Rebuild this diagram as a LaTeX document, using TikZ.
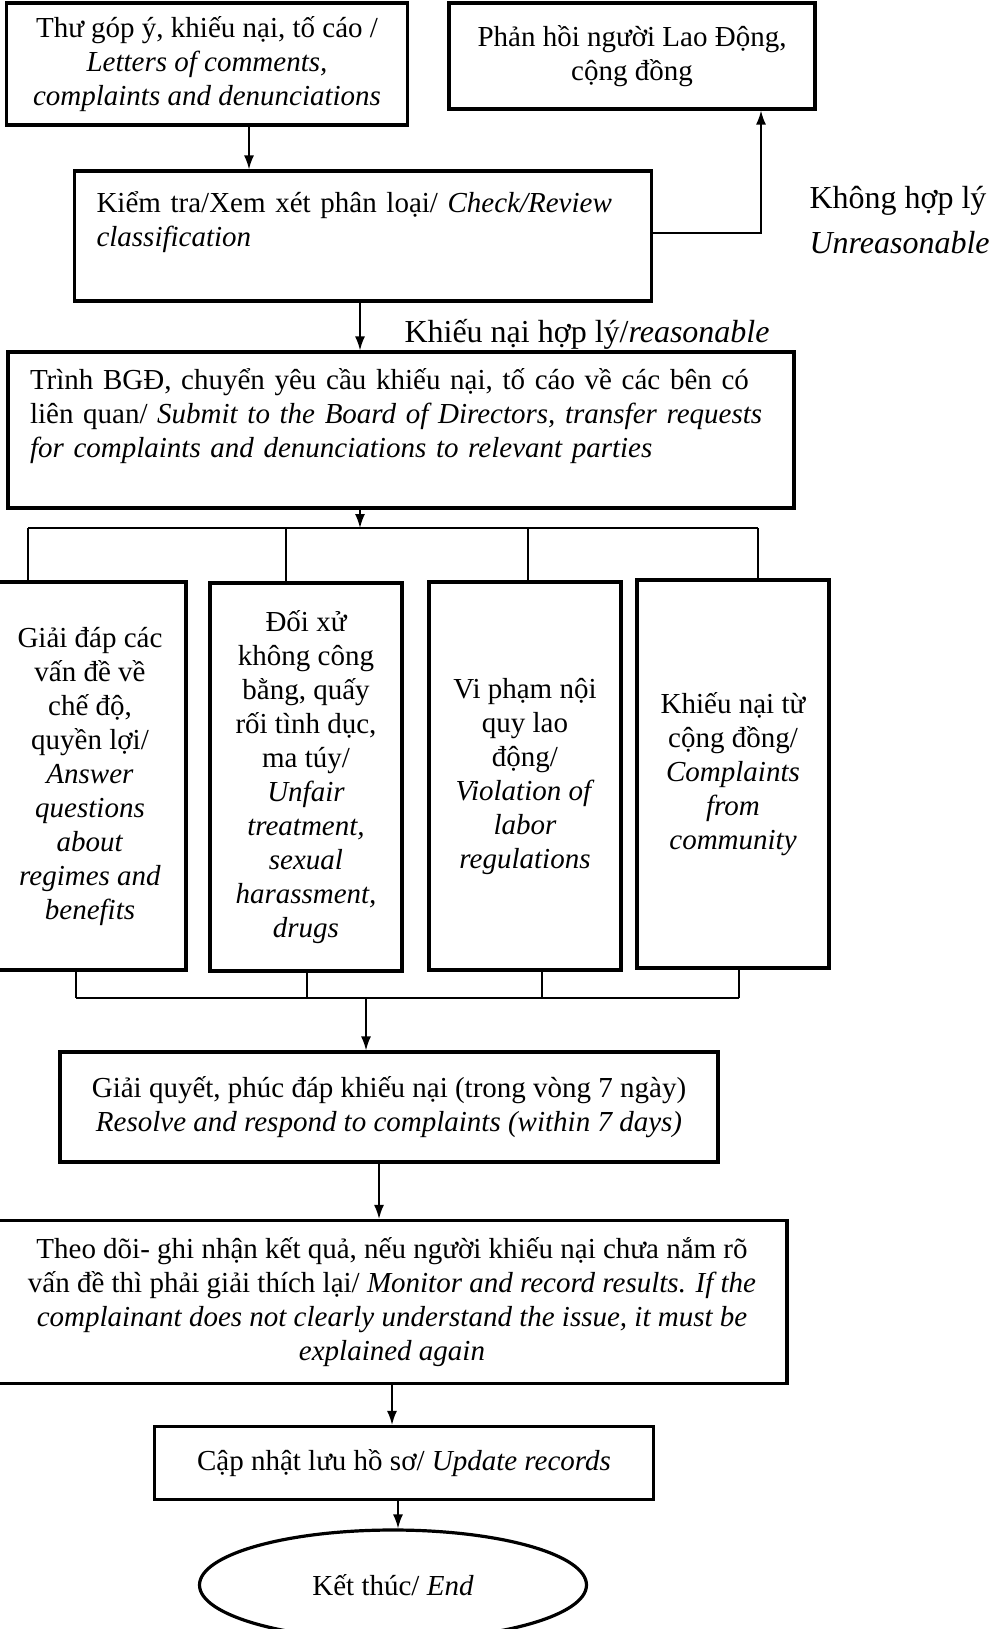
\documentclass[tikz,border=0pt]{standalone}
\usepackage{fontspec}
\setmainfont{Liberation Serif}[ItalicFont={Liberation Serif Italic}]
\usetikzlibrary{arrows.meta,shapes.geometric}

\begin{document}
\begin{tikzpicture}[x=1pt,y=-1pt,
    box/.style={draw,line width=3.2pt,align=center,inner sep=0pt,font=\fontsize{29}{34}\selectfont},
    leftbox/.style={box,align=left,inner xsep=22pt},
    branch/.style={box,minimum width=192,minimum height=388},
    link/.style={line width=1.6pt},
    note/.style={font=\fontsize{32}{45}\selectfont,align=left,anchor=west},
    >={Latex[length=14pt,width=10pt]}]
\useasboundingbox (0,0) rectangle (995,1629);

\node[box,minimum width=401,minimum height=122] (letters) at (207,64)
    {Thư góp ý, khiếu nại, tố cáo /\\ \textit{Letters of comments,}\\ \textit{complaints and denunciations}};
\node[box,minimum width=366,minimum height=106] (feedback) at (632,56)
    {Phản hồi người Lao Động,\\ cộng đồng};
\node[leftbox,text width=533,minimum height=130] (check) at (363,236)
    {Kiểm tra/Xem xét phân loại/ \textit{Check/Review}\\ \textit{classification}\\ \mbox{}};
\node[leftbox,text width=742,minimum height=156] (submit) at (401,430)
    {Trình BGĐ, chuyển yêu cầu khiếu nại, tố cáo về các bên có\\ liên quan/ \textit{Submit to the Board of Directors, transfer requests}\\ \textit{for complaints and denunciations to relevant parties}\\ \mbox{}};

\node[branch] (answer) at (90,776)
    {Giải đáp các\\ vấn đề về\\ chế độ,\\ quyền lợi/\\ \textit{Answer}\\ \textit{questions}\\ \textit{about}\\ \textit{regimes and}\\ \textit{benefits}};
\node[branch] (unfair) at (306,777)
    {Đối xử\\ không công\\ bằng, quấy\\ rối tình dục,\\ ma túy/\\ \textit{Unfair}\\ \textit{treatment,}\\ \textit{sexual}\\ \textit{harassment,}\\ \textit{drugs}};
\node[branch] (violation) at (525,776)
    {Vi phạm nội\\ quy lao\\ động/\\ \textit{Violation of}\\ \textit{labor}\\ \textit{regulations}};
\node[branch] (community) at (733,774)
    {Khiếu nại từ\\ cộng đồng/\\ \textit{Complaints}\\ \textit{from}\\ \textit{community}};

\node[box,minimum width=658,minimum height=110] (resolve) at (389,1107)
    {Giải quyết, phúc đáp khiếu nại (trong vòng 7 ngày)\\ \textit{Resolve and respond to complaints (within 7 days)}};
\node[box,minimum width=790,minimum height=163] (monitor) at (392,1302)
    {Theo dõi- ghi nhận kết quả, nếu người khiếu nại chưa nắm rõ\\ vấn đề thì phải giải thích lại/ \textit{Monitor and record results. If the}\\ \textit{complainant does not clearly understand the issue, it must be}\\ \textit{explained again}};
\node[box,minimum width=499,minimum height=73] (update) at (404,1463)
    {Cập nhật lưu hồ sơ/ \textit{Update records}};
\node[box,ellipse,minimum width=387,minimum height=110] (finish) at (393,1585)
    {Kết thúc/ \textit{End}};

\node[note] (no) at (806,220) {Không hợp lý\\ \textit{Unreasonable}};
\node[note,font=\fontsize{32}{34}\selectfont] (yes) at (401,334) {Khiếu nại hợp lý/\textit{reasonable}};

\coordinate (turn) at (761,233);
\coordinate (split) at (360,528);
\coordinate (join) at (366,998);

\draw[link,->] ([xshift=42pt]letters.south) -- ([xshift=42pt]letters.south |- check.north);
\draw[link,->] (check.east |- turn) -- (turn) -- (turn |- feedback.south);
\draw[link,->] (check.south -| split) -- (split |- submit.north);
\draw[link,->] (submit.south -| split) -- (split);
\draw[link] (28,528) -- (758,528);
\foreach \n/\x in {answer/28,unfair/286,violation/528,community/758}
    \draw[link] (\x,528) -- (\n.north -| \x,0);
\foreach \n/\x in {answer/76,unfair/307,violation/542,community/739}
    \draw[link] (\n.south -| \x,0) -- (\x,998);
\draw[link] (76,998) -- (739,998);
\draw[link,->] (join) -- (join |- resolve.north);
\draw[link,->] (resolve.south -| 379,0) -- (monitor.north -| 379,0);
\draw[link,->] (monitor.south -| 392,0) -- (update.north -| 392,0);
\draw[link,->] (update.south -| 398,0) -- (finish.north -| 398,0);
\end{tikzpicture}
\end{document}
